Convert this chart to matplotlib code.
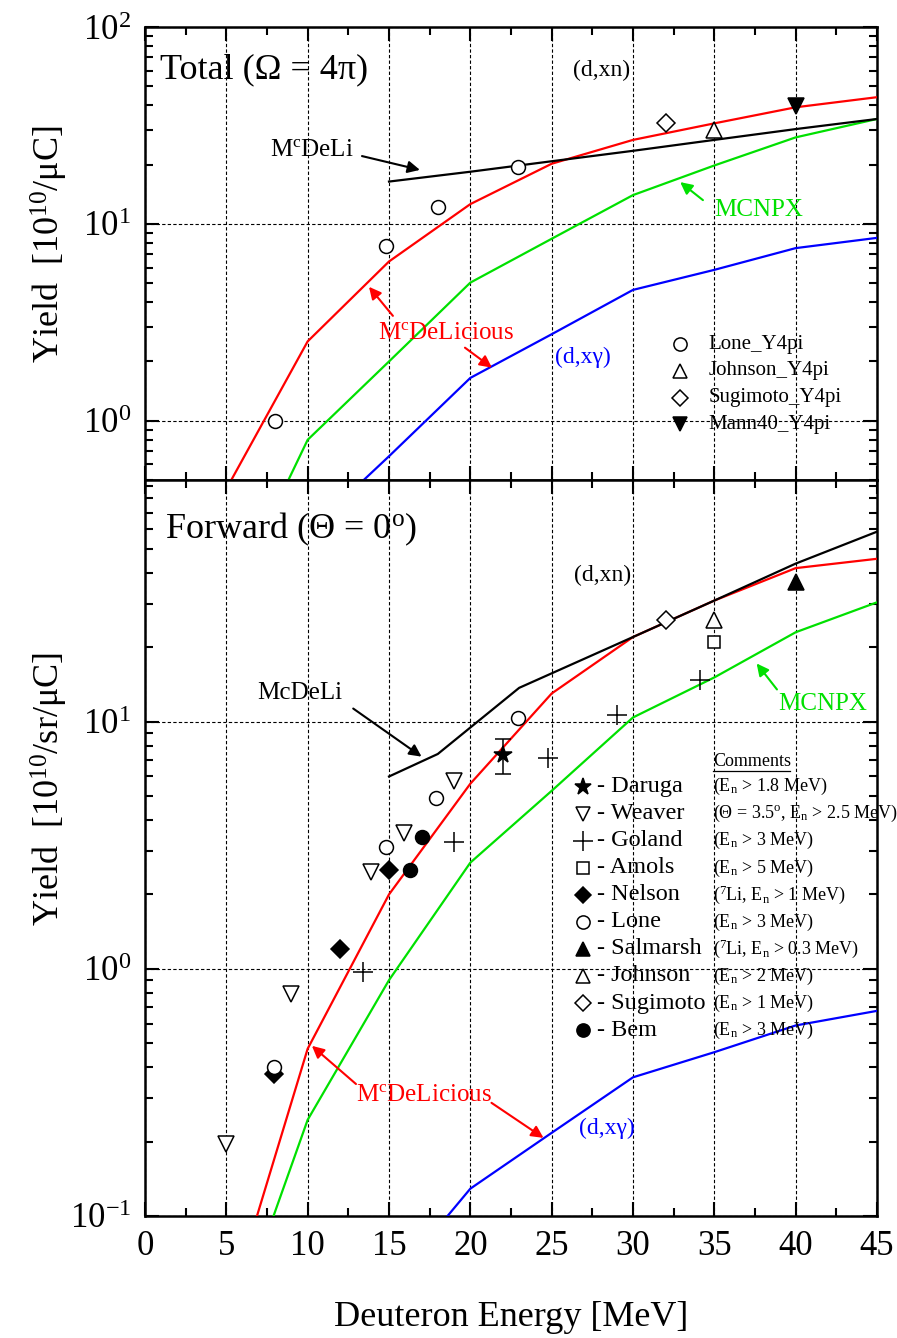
import numpy as np
import matplotlib
matplotlib.use('Agg')
import matplotlib.pyplot as plt
from matplotlib.ticker import LogLocator, MultipleLocator, NullFormatter
from matplotlib.lines import Line2D

plt.rcParams['font.family'] = ['Liberation Serif', 'DejaVu Serif']
plt.rcParams['mathtext.fontset'] = 'custom'
plt.rcParams['mathtext.rm'] = 'Liberation Serif'
plt.rcParams['mathtext.it'] = 'Liberation Serif:italic'
plt.rcParams['mathtext.bf'] = 'Liberation Serif:bold'

# ---- top panel: total yield (Omega = 4pi) ----
top_E = [5, 10, 15, 20, 25, 30, 35, 40, 45]
top_mcdelicious = [0.45, 2.53, 6.44, 12.6, 20.2, 26.7, 32.4, 39.1, 44.0]
top_mcnpx = [0.11, 0.80, 2.0, 5.03, 8.4, 14.0, 19.8, 27.5, 34.1]
top_mcdeli_E = [15, 20, 25, 30, 35, 40, 45]
top_mcdeli = [16.4, 18.4, 20.8, 23.5, 26.7, 30.3, 34.1]
top_gamma_E = [10, 15, 20, 25, 30, 35, 40, 45]
top_gamma = [0.27, 0.66, 1.65, 2.75, 4.62, 5.84, 7.53, 8.49]

lone4pi_E = [8.0, 14.8, 18.0, 22.9]
lone4pi_Y = [1.0, 7.7, 12.2, 19.5]
johnson4pi_E = [35.0]
johnson4pi_Y = [30.0]
sugimoto4pi_E = [32.0]
sugimoto4pi_Y = [32.7]
mann4pi_E = [40.0]
mann4pi_Y = [39.7]

# ---- bottom panel: forward yield (Theta = 0) ----
bot_E = [5, 10, 15, 20, 25, 30, 35, 40, 45]
bot_mcdelicious = [0.039, 0.475, 2.0, 5.61, 13.0, 22.0, 30.9, 41.8, 45.6]
bot_mcnpx = [0.029, 0.245, 0.90, 2.69, 5.25, 10.4, 15.1, 23.0, 30.4]
bot_mcdeli_E = [15, 18, 23, 30, 35, 40, 45]
bot_mcdeli = [6.0, 7.4, 13.7, 22.0, 30.9, 43.6, 58.7]
bot_gamma_E = [15, 20, 25, 30, 35, 40, 45]
bot_gamma = [0.052, 0.129, 0.217, 0.364, 0.46, 0.59, 0.676]

daruga_E = [22.0]
daruga_Y = [7.31]
daruga_err = [[1.18], [1.22]]
weaver_E = [5.0, 9.0, 13.9, 15.9, 19.0]
weaver_Y = [0.196, 0.79, 2.46, 3.56, 5.73]
goland_E = [13.4, 19.0, 24.8, 29.0, 34.1]
goland_Y = [0.97, 3.26, 7.15, 10.6, 14.8]
amols_E = [35.0]
amols_Y = [21.1]
nelson_E = [7.9, 12.0, 15.0]
nelson_Y = [0.376, 1.20, 2.50]
lone_E = [7.9, 14.8, 17.9, 22.9]
lone_Y = [0.40, 3.12, 4.9, 10.3]
salmarsh_E = [40.0]
salmarsh_Y = [36.9]
johnson_E = [35.0]
johnson_Y = [25.7]
sugimoto_E = [32.0]
sugimoto_Y = [25.7]
bem_E = [16.3, 17.0]
bem_Y = [2.50, 3.41]

bot_names = ['Daruga', 'Weaver', 'Goland', 'Amols', 'Nelson', 'Lone',
             'Salmarsh', 'Johnson', 'Sugimoto', 'Bem']
bot_comments = [r'(E$_{\rm n}$ > 1.8 MeV)',
                r'(Θ = 3.5$^{\rm o}$, E$_{\rm n}$ > 2.5 MeV)',
                r'(E$_{\rm n}$ > 3 MeV)',
                r'(E$_{\rm n}$ > 5 MeV)',
                r'($^{\rm 7}$Li, E$_{\rm n}$ > 1 MeV)',
                r'(E$_{\rm n}$ > 3 MeV)',
                r'($^{\rm 7}$Li, E$_{\rm n}$ > 0.3 MeV)',
                r'(E$_{\rm n}$ > 2 MeV)',
                r'(E$_{\rm n}$ > 1 MeV)',
                r'(E$_{\rm n}$ > 3 MeV)']
top_names = ['Lone_Y4pi', 'Johnson_Y4pi', 'Sugimoto_Y4pi', 'Mann40_Y4pi']

RED = '#ff0000'
GREEN = '#00e000'
BLUE = '#0000ff'

# marker styles (marker, facecolor, size)
sty = {
    'Daruga': ('*', 'black', 13),
    'Weaver': ('v', 'white', 11),
    'Goland': ('+', 'black', 15),
    'Amols': ('s', 'white', 9),
    'Nelson': ('D', 'black', 9),
    'Lone': ('o', 'white', 10),
    'Salmarsh': ('^', 'black', 11),
    'Johnson': ('^', 'white', 11),
    'Sugimoto': ('D', 'white', 9),
    'Bem': ('o', 'black', 10),
    'Mann40': ('v', 'black', 11),
}


def pts(ax, E, Y, key, **kw):
    m, fc, ms = sty[key]
    ax.plot(E, Y, linestyle='none', marker=m, markerfacecolor=fc,
            markeredgecolor='black', markersize=ms, markeredgewidth=1.1,
            zorder=5, **kw)


def style(ax, ylim):
    ax.set_xlim(0, 45)
    ax.set_yscale('log')
    ax.set_ylim(*ylim)
    ax.xaxis.set_major_locator(MultipleLocator(5))
    ax.xaxis.set_minor_locator(MultipleLocator(2.5))
    ax.yaxis.set_major_locator(LogLocator(base=10, numticks=10))
    ax.yaxis.set_minor_locator(LogLocator(base=10, subs=np.arange(2, 10), numticks=10))
    ax.yaxis.set_minor_formatter(NullFormatter())
    ax.tick_params(which='both', direction='in', top=True, right=True, width=1.5)
    ax.tick_params(which='major', length=10, labelsize=25, pad=10)
    ax.tick_params(which='minor', length=6)
    for s in ax.spines.values():
        s.set_linewidth(1.8)
    ax.grid(True, which='major', color='black', linestyle=(0, (3, 2)), linewidth=0.8)
    ax.set_axisbelow(True)


def arrow(ax, tip, tail, color):
    ax.annotate('', xy=tip, xytext=tail,
                arrowprops=dict(arrowstyle='-|>', color=color, lw=1.5,
                                mutation_scale=18, shrinkA=0, shrinkB=0))


fig = plt.figure(figsize=(8.97, 13.38), dpi=100)
ax1 = fig.add_axes([145 / 897, 1 - 480 / 1338, 732 / 897, 453 / 1338])
ax2 = fig.add_axes([145 / 897, 1 - 1216 / 1338, 732 / 897, 736 / 1338])

# ---- top ----
style(ax1, (0.5, 100))
ax1.tick_params(labelbottom=False)
lw = 1.6
ax1.plot(top_E, top_mcdelicious, color=RED, lw=lw, zorder=3)
ax1.plot(top_E, top_mcnpx, color=GREEN, lw=lw, zorder=3)
ax1.plot(top_mcdeli_E, top_mcdeli, color='black', lw=lw, zorder=3)
ax1.plot(top_gamma_E, top_gamma, color=BLUE, lw=lw, zorder=3)
pts(ax1, lone4pi_E, lone4pi_Y, 'Lone')
pts(ax1, johnson4pi_E, johnson4pi_Y, 'Johnson')
pts(ax1, sugimoto4pi_E, sugimoto4pi_Y, 'Sugimoto')
pts(ax1, mann4pi_E, mann4pi_Y, 'Mann40')

ax1.text(0.9, 60.5, 'Total (Ω = 4π)', fontsize=26, va='center')
ax1.text(26.3, 60, '(d,xn)', fontsize=17, va='center')
ax1.text(7.7, 23.8, r'M$^{\rm c}$DeLi', fontsize=18, va='center')
arrow(ax1, (16.9, 18.8), (13.34, 22.1), 'black')
ax1.text(35.0, 11.8, 'MCNPX', fontsize=18, va='center', color=GREEN)
arrow(ax1, (32.9, 16.3), (34.3, 13.2), GREEN)
ax1.text(14.3, 2.8, r'M$^{\rm c}$DeLicious', fontsize=18, va='center', color=RED)
arrow(ax1, (13.77, 4.79), (15.24, 3.41), RED)
arrow(ax1, (21.33, 1.86), (19.67, 2.35), RED)
ax1.text(25.2, 2.09, '(d,xγ)', fontsize=17, va='center', color=BLUE)

ax1.set_ylabel(r'Yield  [10$^{10}$/μC]', fontsize=26)
ax1.yaxis.set_label_coords(-0.102, 0.52)

# manual legend, top
for i, name in enumerate(top_names):
    yy = 0.300 - i * 0.059
    m, fc, ms = sty[name.split('_')[0]]
    ax1.plot([0.731], [yy], transform=ax1.transAxes, marker=m, markerfacecolor=fc,
             markeredgecolor='black', markersize=ms * 0.95, markeredgewidth=1.1,
             linestyle='none', clip_on=False)
    ax1.text(0.770, yy, name, transform=ax1.transAxes, fontsize=15, va='center')

# ---- bottom ----
style(ax2, (0.1, 95))
ax2.plot(bot_E, bot_mcdelicious, color=RED, lw=lw, zorder=3)
ax2.plot(bot_E, bot_mcnpx, color=GREEN, lw=lw, zorder=3)
ax2.plot(bot_mcdeli_E, bot_mcdeli, color='black', lw=lw, zorder=3)
ax2.plot(bot_gamma_E, bot_gamma, color=BLUE, lw=lw, zorder=3)

ax2.errorbar(daruga_E, daruga_Y, yerr=daruga_err, fmt='none', ecolor='black',
             elinewidth=1.1, capsize=6, capthick=1.1, zorder=4)
pts(ax2, daruga_E, daruga_Y, 'Daruga')
pts(ax2, weaver_E, weaver_Y, 'Weaver')
pts(ax2, goland_E, goland_Y, 'Goland')
pts(ax2, amols_E, amols_Y, 'Amols')
pts(ax2, nelson_E, nelson_Y, 'Nelson')
pts(ax2, lone_E, lone_Y, 'Lone')
pts(ax2, salmarsh_E, salmarsh_Y, 'Salmarsh')
pts(ax2, johnson_E, johnson_Y, 'Johnson')
pts(ax2, sugimoto_E, sugimoto_Y, 'Sugimoto')
pts(ax2, bem_E, bem_Y, 'Bem')

ax2.text(1.2, 59.9, r'Forward (Θ = 0$^{\rm o}$)', fontsize=26, va='center')
ax2.text(26.4, 39, '(d,xn)', fontsize=17, va='center')
ax2.text(6.9, 13.1, 'McDeLi', fontsize=18, va='center')
arrow(ax2, (17.0, 7.22), (12.8, 11.3), 'black')
ax2.text(38.9, 11.8, 'MCNPX', fontsize=18, va='center', color=GREEN)
arrow(ax2, (37.6, 17.2), (38.85, 13.5), GREEN)
ax2.text(13.0, 0.309, r'M$^{\rm c}$DeLicious', fontsize=18, va='center', color=RED)
arrow(ax2, (10.26, 0.488), (12.97, 0.342), RED)
arrow(ax2, (24.5, 0.207), (21.3, 0.287), RED)
ax2.text(26.7, 0.227, '(d,xγ)', fontsize=17, va='center', color=BLUE)

ax2.set_ylabel(r'Yield  [10$^{10}$/sr/μC]', fontsize=26)
ax2.yaxis.set_label_coords(-0.102, 0.58)
ax2.set_xlabel('Deuteron Energy [MeV]', fontsize=26)
ax2.xaxis.set_label_coords(0.5, -0.115)

# manual legend, bottom
ax2.text(0.776, 0.617, 'Comments', transform=ax2.transAxes, fontsize=13, va='center')
ax2.add_line(Line2D([0.776, 0.881], [0.604, 0.604], transform=ax2.transAxes,
                    color='black', lw=0.9))
for i, (name, com) in enumerate(zip(bot_names, bot_comments)):
    yy = 0.583 - i * 0.0367
    m, fc, ms = sty[name]
    ax2.plot([0.598], [yy], transform=ax2.transAxes, marker=m, markerfacecolor=fc,
             markeredgecolor='black', markersize=ms * 0.95, markeredgewidth=1.1,
             linestyle='none', clip_on=False)
    ax2.text(0.617, yy, '- ' + name, transform=ax2.transAxes, fontsize=17.5, va='center')
    ax2.text(0.776, yy, com, transform=ax2.transAxes, fontsize=13, va='center')

fig.savefig('out.png', dpi=100)
